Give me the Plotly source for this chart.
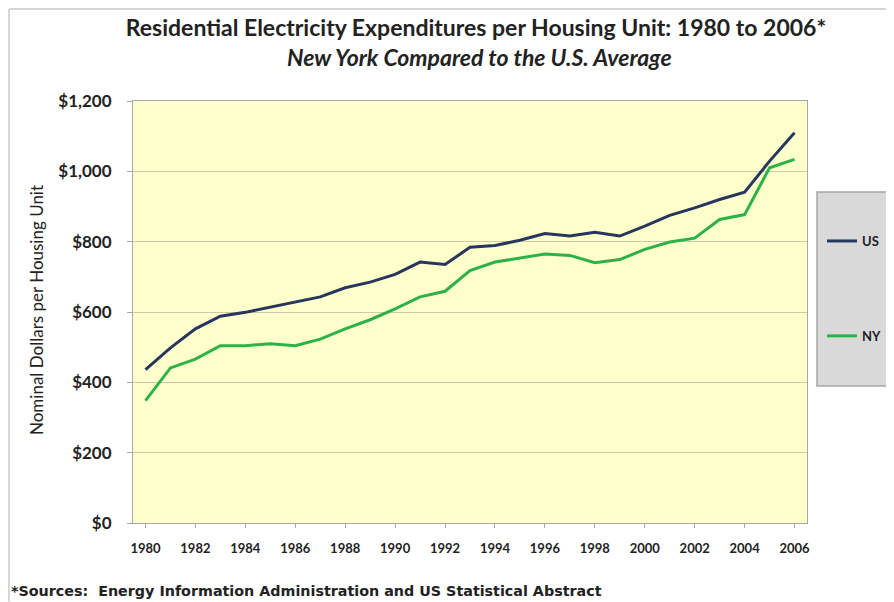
import plotly.graph_objects as go

years = list(range(1980, 2007))
us_values = [436, 498, 552, 588, 599, 614, 628, 643, 669, 685, 707, 742, 735, 784,
             789, 804, 823, 816, 827, 816, 844, 875, 896, 920, 941, 1029, 1110]
ny_values = [348, 441, 466, 504, 504, 510, 504, 523, 552, 578, 609, 643, 659, 718,
             742, 754, 765, 761, 740, 749, 778, 799, 810, 863, 877, 1010, 1034]
x_tick_years = list(range(1980, 2007, 2))
y_tick_values = [0, 200, 400, 600, 800, 1000, 1200]
y_tick_text = ["$" + format(v, ",") for v in y_tick_values]

FONT = "Lato"
OFF = 8  # page body margin
W, H = 894 - OFF, 602 - OFF
L, T = 133 - OFF, 101 - OFF
R = W - (807 - OFF)
B = H - (523 - OFF)
PW, PH = W - L - R, H - T - B

def px_x(px):  # px in reference screen coordinates
    return (px - OFF - L) / PW

def px_y(py):
    return (H - B - (py - OFF)) / PH

fig = go.Figure()
fig.add_trace(go.Scatter(x=years, y=us_values, mode="lines", name="US",
                         line=dict(color="#26365E", width=3), legendgroup="us"))
fig.add_trace(go.Scatter(x=years, y=ny_values, mode="lines", name="NY",
                         line=dict(color="#2DB24A", width=3), legendgroup="ny"))

fig.update_layout(
    width=W, height=H,
    margin=dict(l=L, r=R, t=T, b=B, autoexpand=False),
    paper_bgcolor="white",
    plot_bgcolor="#FFFFCC",
    font=dict(family=FONT, color="#222222"),
    title=dict(text="<b>Residential Electricity Expenditures per Housing Unit: 1980 to 2006*</b>",
               x=px_x(476), xref="paper", xanchor="center",
               y=1 - (28 - OFF) / H, yref="container", yanchor="middle",
               font=dict(family=FONT, size=23, color="#222222")),
    xaxis=dict(range=[1979.5, 2006.5], tickvals=x_tick_years,
               ticktext=[str(y) for y in x_tick_years],
               showgrid=False, zeroline=False,
               showline=True, linecolor="#A6A6A6", linewidth=1, mirror=True,
               ticks="outside", ticklen=4, tickcolor="#A6A6A6",
               ticklabelstandoff=9,
               tickfont=dict(family=FONT, size=13, color="#222222", weight="bold"),
               fixedrange=True),
    yaxis=dict(range=[0, 1200], tickvals=y_tick_values, ticktext=y_tick_text,
               showgrid=True, gridcolor="#CFC9A6", gridwidth=1,
               zeroline=False,
               showline=True, linecolor="#A6A6A6", linewidth=1, mirror=True,
               ticks="outside", ticklen=5, tickcolor="#A6A6A6",
               ticklabelstandoff=12,
               tickfont=dict(family=FONT, size=17, color="#222222", weight="bold"),
               fixedrange=True),
    legend=dict(x=px_x(822), xanchor="left", y=px_y(226), yanchor="top",
                bgcolor="rgba(0,0,0,0)", borderwidth=0,
                tracegroupgap=75,
                font=dict(family=FONT, size=13, color="#222222", weight="bold")),
    showlegend=True,
)

# outer chart border (top and left edges only, kept inside the figure)
fig.add_shape(type="line", xref="paper", yref="paper",
              x0=px_x(9), x1=px_x(893.5), y0=px_y(9), y1=px_y(9),
              line=dict(color="#C8C8C8", width=1.5), layer="below")
fig.add_shape(type="line", xref="paper", yref="paper",
              x0=px_x(9), x1=px_x(9), y0=px_y(9), y1=px_y(601.5),
              line=dict(color="#C8C8C8", width=1.5), layer="below")

# legend box
fig.add_shape(type="rect", xref="paper", yref="paper",
              x0=px_x(817), x1=px_x(892), y0=px_y(386), y1=px_y(192),
              fillcolor="#D9D9D9", line=dict(color="#A6A6A6", width=1.5), layer="below")

fig.add_annotation(text="<b><i>New York Compared to the U.S. Average</i></b>",
                   xref="paper", yref="paper", x=px_x(480), y=px_y(57),
                   xanchor="center", yanchor="middle", showarrow=False,
                   font=dict(family=FONT, size=23, color="#222222"))

fig.add_annotation(text="Nominal Dollars per Housing Unit",
                   xref="paper", yref="paper", x=px_x(36), y=px_y(310),
                   xanchor="center", yanchor="middle", showarrow=False, textangle=-90,
                   font=dict(family=FONT, size=17, color="#222222"))

fig.add_annotation(text="<b>*Sources:  Energy Information Administration and US Statistical Abstract</b>",
                   xref="paper", yref="paper", x=px_x(9), y=px_y(591),
                   xanchor="left", yanchor="middle", showarrow=False,
                   font=dict(family="DejaVu Sans", size=14.3, color="#222222"))

fig.write_html("out.html")
